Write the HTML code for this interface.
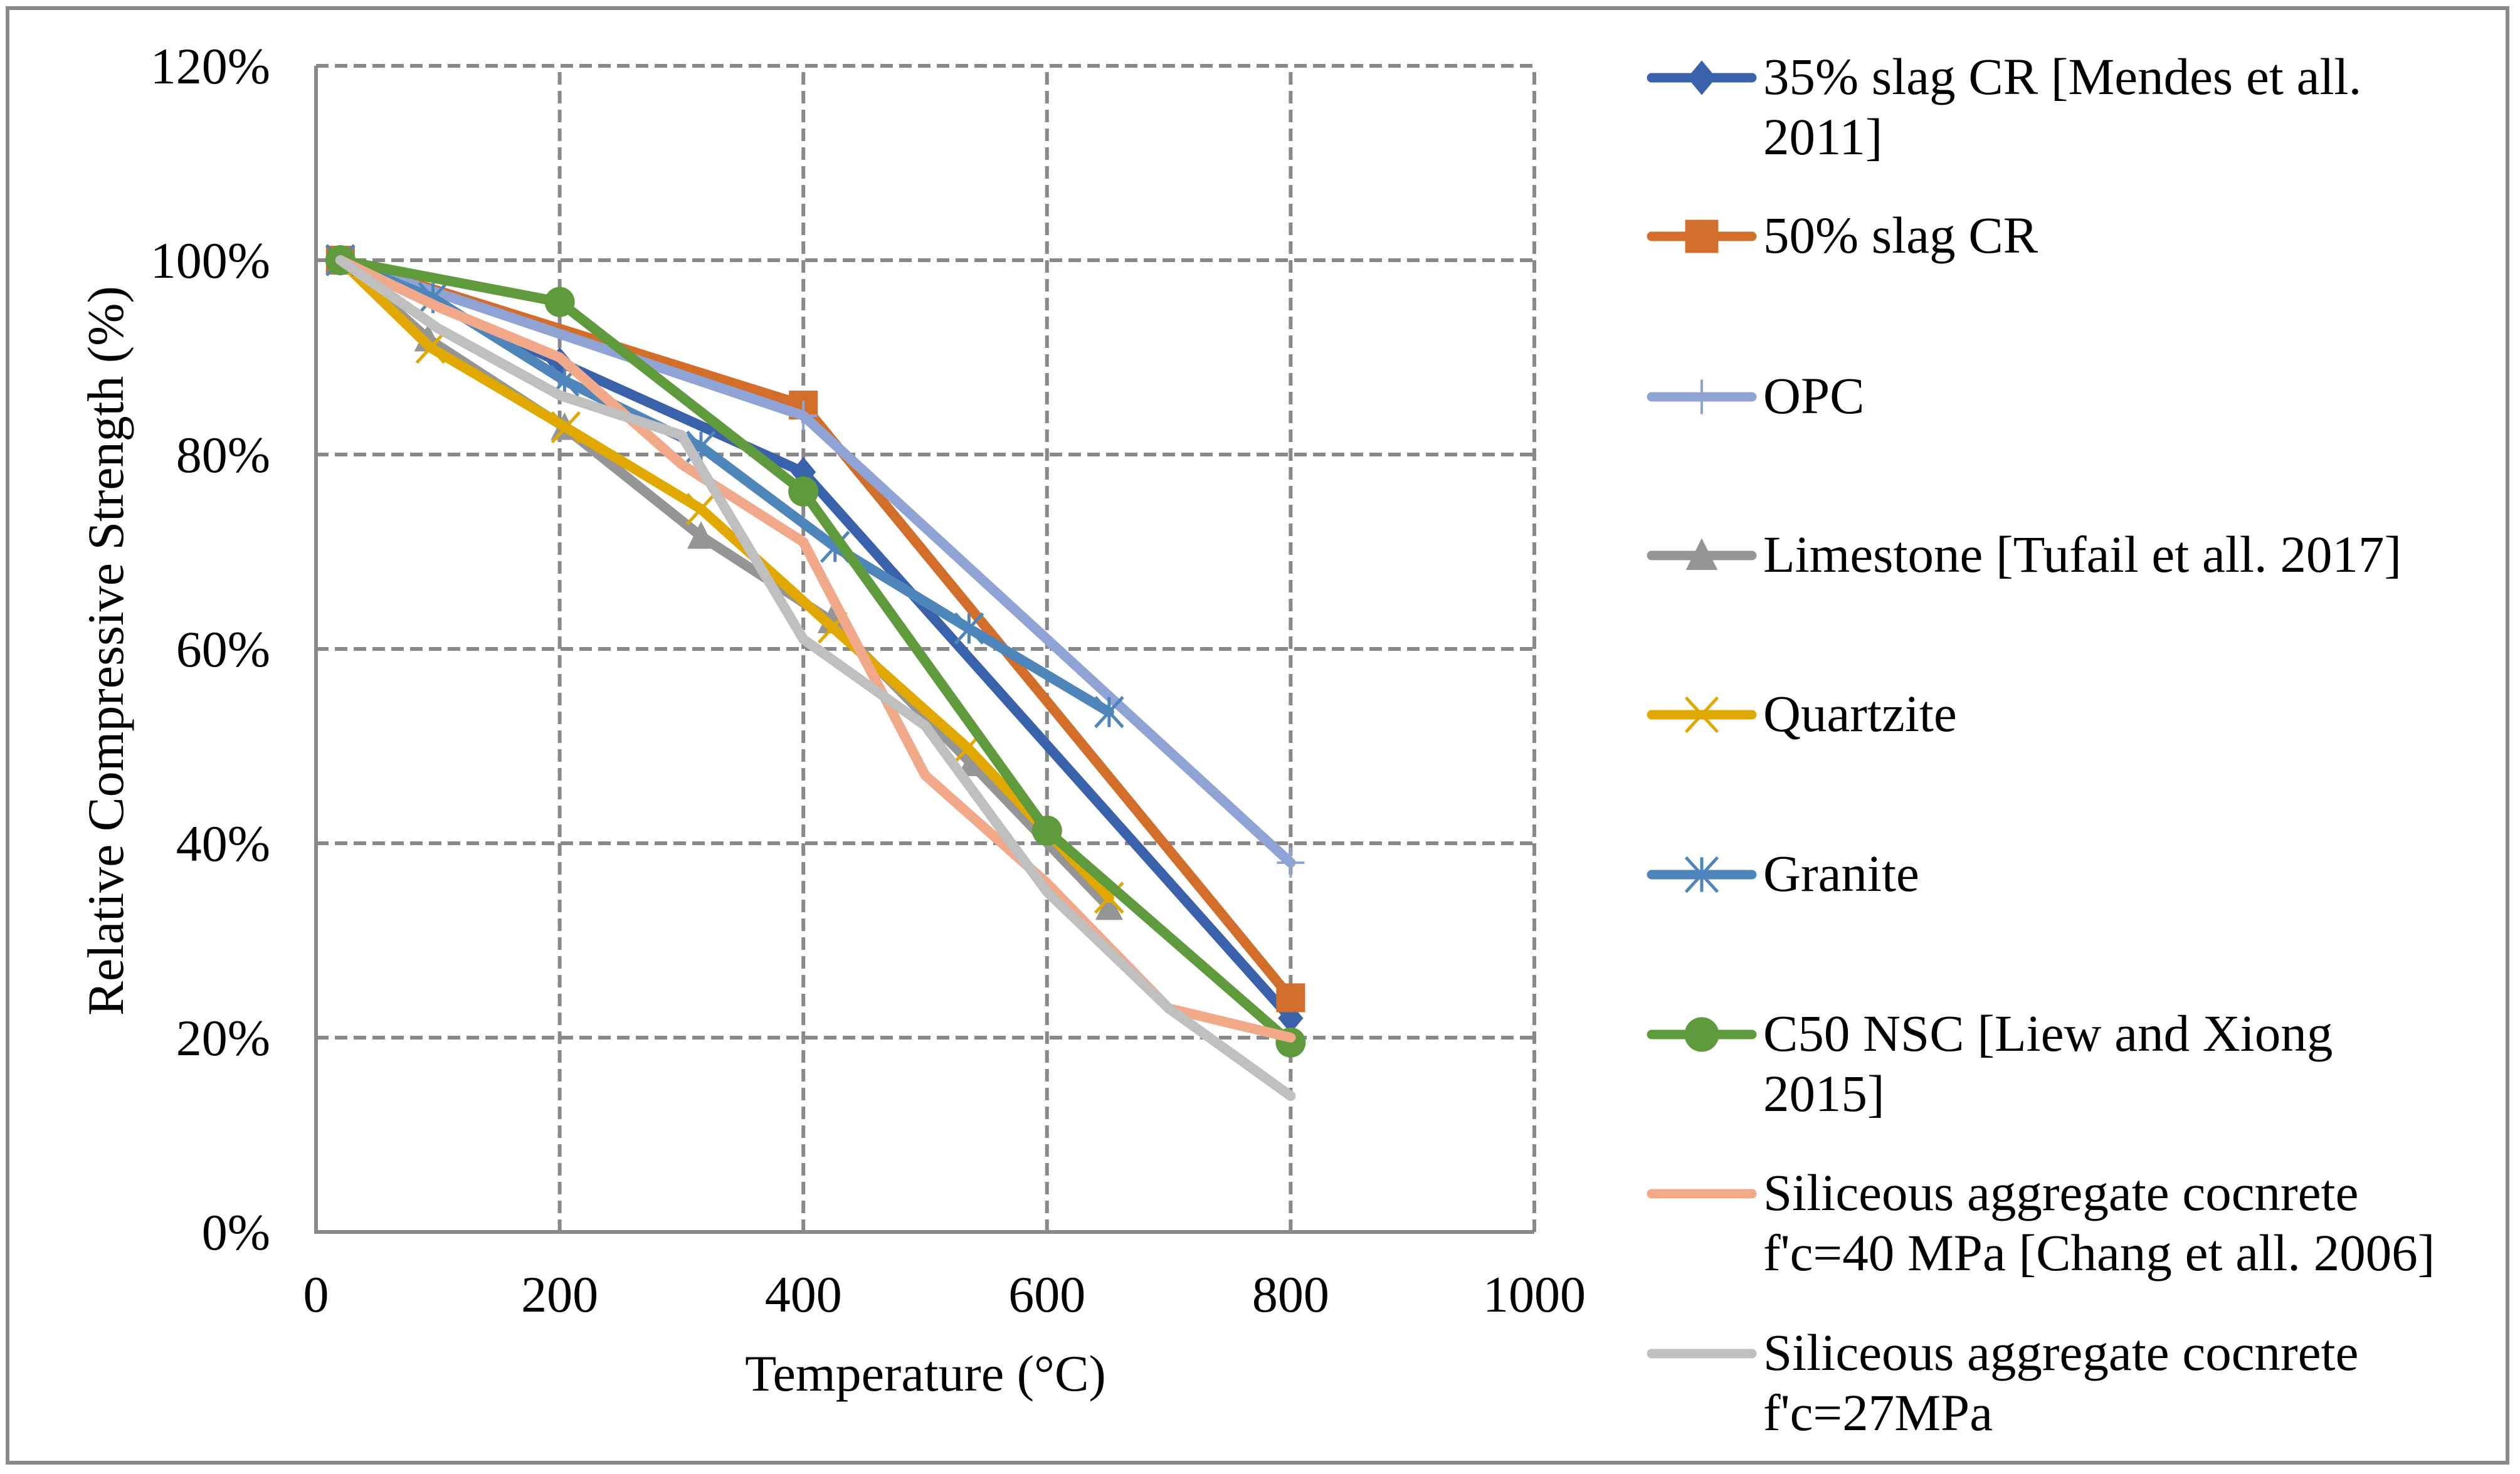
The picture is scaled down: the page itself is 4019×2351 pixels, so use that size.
<!DOCTYPE html>
<html><head><meta charset="utf-8"><style>
html,body{margin:0;padding:0;background:#fff;}
svg{display:block;font-family:"Liberation Serif",serif;}
</style></head><body>
<svg id="chart" width="4019" height="2351" viewBox="0 0 4019 2351" xmlns="http://www.w3.org/2000/svg">
<rect x="12" y="13" width="3987" height="2320" fill="#fff" stroke="#898989" stroke-width="6"/>
<g id="grid"></g>
<g id="axes"></g>
<g id="series"></g>
<text x="1476" y="2218" font-size="82" text-anchor="middle">Temperature (°C)</text>
<text transform="translate(196,1038) rotate(-90)" font-size="82" text-anchor="middle">Relative Compressive Strength (%)</text>
<g id="legend"></g>
</svg>
<script>
const xTicks=[0,200,400,600,800,1000];
const yTicks=[0,20,40,60,80,100,120];
const seriesNames=["35% slag CR [Mendes et all. 2011]","50% slag CR","OPC","Limestone [Tufail et all. 2017]","Quartzite","Granite","C50 NSC [Liew and Xiong 2015]","Siliceous aggregate cocnrete f'c=40 MPa [Chang et all. 2006]","Siliceous aggregate cocnrete f'c=27MPa"];
const legendLines=[["35% slag CR [Mendes et all.","2011]"],["50% slag CR"],["OPC"],["Limestone [Tufail et all. 2017]"],["Quartzite"],["Granite"],["C50 NSC [Liew and Xiong","2015]"],["Siliceous aggregate cocnrete","f'c=40 MPa [Chang et all. 2006]"],["Siliceous aggregate cocnrete","f'c=27MPa"]];
const slag35T=[20,200,400,800]; const slag35V=[100,89.5,78.2,22];
const slag50T=[20,400,800]; const slag50V=[100,85.1,24.1];
const opcT=[20,400,800]; const opcV=[100,84,38];
const limeT=[20,92,204,316,423,538,651]; const limeV=[100,91.9,82.8,71.6,62.9,48.2,33.4];
const quartzT=[20,94,205,316,424,535,651]; const quartzV=[100,91,82.8,74.4,62.2,49.8,34.4];
const graniteT=[20,96,204,316,426,536,651]; const graniteV=[100,96.1,87.6,80.8,70.5,62.1,53.5];
const c50T=[20,200,400,600,800]; const c50V=[100,95.7,76.2,41.3,19.5];
const sil40T=[20,100,200,300,400,500,600,700,800]; const sil40V=[100,95.2,90,79,71,47,35.9,23,20];
const sil27T=[20,100,200,300,400,500,600,700,800]; const sil27V=[100,93,86.1,82,61,52.1,35,23,14];

const NS="http://www.w3.org/2000/svg";
const X0=504,X1=2447,Y0=1965,Y1=105;
const xs=t=>X0+(t-0)/(1000-0)*(X1-X0);
const ys=v=>Y0-(v-0)/(120-0)*(Y0-Y1);
function mk(tag,attrs,parent){const e=document.createElementNS(NS,tag);for(const k in attrs)e.setAttribute(k,attrs[k]);parent.appendChild(e);return e;}
const grid=document.getElementById('grid'),axes=document.getElementById('axes'),ser=document.getElementById('series'),leg=document.getElementById('legend');
yTicks.forEach(v=>{
 if(v>0){const l=mk('line',{x1:X0,x2:X1,y1:ys(v),y2:ys(v),stroke:'#898989','stroke-width':6,'stroke-dasharray':'20 10'},grid);
 
 }
 const t=mk('text',{x:431,y:ys(v)+28,'font-size':82,'text-anchor':'end'},axes);t.textContent=v+'%';
 
 
});
xTicks.forEach(v=>{
 if(v>0){const l=mk('line',{x1:xs(v),x2:xs(v),y1:Y0,y2:Y1,stroke:'#898989','stroke-width':6,'stroke-dasharray':'20 10'},grid);
 
 }
 const t=mk('text',{x:xs(v),y:2092,'font-size':82,'text-anchor':'middle'},axes);t.textContent=v;
 
 
});
const ax1=mk('line',{x1:X0,x2:X0,y1:Y1,y2:Y0+3,stroke:'#898989','stroke-width':6},axes);


const ax2=mk('line',{x1:X0-3,x2:X1,y1:Y0,y2:Y0,stroke:'#898989','stroke-width':6},axes);



const colors=['#3A62AA','#D26E2A','#8FA4D4','#959595','#E1A800','#4E86BB','#5F9A3D','#F1A98A','#BFBFBF'];
const markers=['diamond','square','plus','triangle','x','star','circle','none','none'];
const Ts=[slag35T,slag50T,opcT,limeT,quartzT,graniteT,c50T,sil40T,sil27T];
const Vs=[slag35V,slag50V,opcV,limeV,quartzV,graniteV,c50V,sil40V,sil27V];
function marker(type,x,y,c,g,s){
 s=s||1;let e;
 if(type==='diamond')e=mk('polygon',{points:`${x},${y-24*s} ${x+20*s},${y} ${x},${y+24*s} ${x-20*s},${y}`,fill:c},g);
 else if(type==='square')e=mk('rect',{x:x-23*s,y:y-23*s,width:46*s,height:46*s,fill:c},g);
 else if(type==='circle')e=mk('circle',{cx:x,cy:y,r:24*s,fill:c},g);
 else if(type==='triangle')e=mk('polygon',{points:`${x},${y-24*s} ${x+22*s},${y+20*s} ${x-22*s},${y+20*s}`,fill:c},g);
 else if(type==='plus')e=mk('path',{d:`M${x-22*s},${y}H${x+22*s}M${x},${y-24*s}V${y+24*s}`,stroke:c,'stroke-width':4,fill:'none'},g);
 else if(type==='x')e=mk('path',{d:`M${x-22*s},${y-24*s}L${x+22*s},${y+24*s}M${x+22*s},${y-24*s}L${x-22*s},${y+24*s}`,stroke:c,'stroke-width':5,fill:'none'},g);
 else if(type==='star')e=mk('path',{d:`M${x-22*s},${y-24*s}L${x+22*s},${y+24*s}M${x+22*s},${y-24*s}L${x-22*s},${y+24*s}M${x},${y-24*s}V${y+24*s}`,stroke:c,'stroke-width':5,fill:'none'},g);
 else return;
 
 
}
Ts.forEach((T,i)=>{
 const g=mk('g',{},ser);
 
 
 const pts=T.map((t,j)=>xs(t)+','+ys(Vs[i][j])).join(' ');
 const pl=mk('polyline',{points:pts,fill:'none',stroke:colors[i],'stroke-width':16,'stroke-linejoin':'round','stroke-linecap':'round'},g);
 
 
 T.forEach((t,j)=>marker(markers[i],xs(t),ys(Vs[i][j]),colors[i],g));
});
const legY=[124,377,633,886,1140,1395,1650,1904,2159];
legendLines.forEach((lines,i)=>{
 const g=mk('g',{},leg);
 
 
 const y=legY[i];
 mk('line',{x1:2634,x2:2794,y1:y,y2:y,stroke:colors[i],'stroke-width':15,'stroke-linecap':'round'},g);
 marker(markers[i],2714,y,colors[i],g,1.15);
 lines.forEach((s,k)=>{const t=mk('text',{x:2812,y:y+26+k*96,'font-size':83},g);t.textContent=s;});
});
</script>
</body></html>
